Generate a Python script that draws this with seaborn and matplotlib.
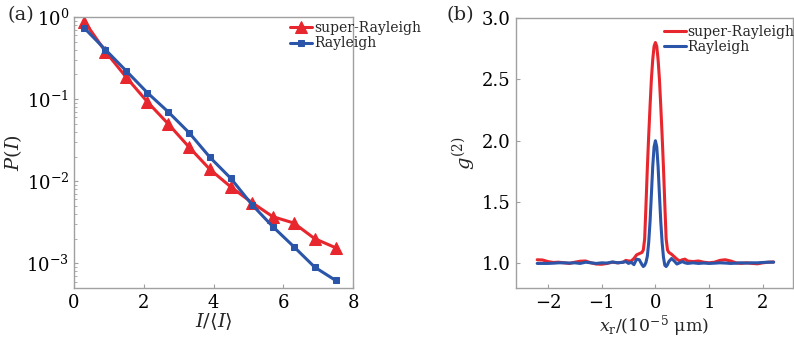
import numpy as np
import pandas as pd
import matplotlib
matplotlib.use("Agg")
import matplotlib.pyplot as plt
import seaborn as sns
from matplotlib.ticker import LogLocator, FormatStrFormatter

# ---------------- data ----------------
# panel (a): intensity statistics
I_norm = [0.3, 0.9, 1.5, 2.1, 2.7, 3.3, 3.9, 4.5, 5.1, 5.7, 6.3, 6.9, 7.5]
P_super = [0.88, 0.38, 0.184, 0.093, 0.050, 0.026, 0.0139, 0.0085, 0.0055,
           0.0037, 0.0031, 0.0020, 0.00155]
P_rayleigh = [0.73, 0.40, 0.22, 0.12, 0.070, 0.039, 0.0195, 0.0108, 0.0052,
              0.0028, 0.0016, 0.0009, 0.00062]

# panel (b): second-order correlation
x_r = [-2.2, -2.1, -2.0, -1.9, -1.8, -1.7, -1.6, -1.5, -1.4, -1.3, -1.2, -1.1,
       -1.0, -0.9, -0.8, -0.7, -0.6, -0.55, -0.5, -0.45, -0.4, -0.35, -0.3,
       -0.25, -0.225, -0.2, -0.175, -0.15, -0.125, -0.1, -0.075, -0.05, -0.025,
       0.0,
       0.025, 0.05, 0.075, 0.1, 0.125, 0.15, 0.175, 0.2, 0.225, 0.25, 0.3,
       0.35, 0.4, 0.45, 0.5, 0.55, 0.6, 0.7, 0.8, 0.9, 1.0, 1.1, 1.2, 1.3,
       1.4, 1.5, 1.6, 1.7, 1.8, 1.9, 2.0, 2.1, 2.2]
g2_super = [1.030, 1.028, 1.015, 1.008, 1.010, 1.005, 1.000, 1.010, 1.018,
            1.020, 1.005, 0.995, 0.993, 1.000, 1.010, 1.005, 1.010, 1.025,
            1.020, 1.020, 1.040, 1.070, 1.080, 1.090, 1.110, 1.200, 1.480,
            1.780, 2.040, 2.280, 2.500, 2.660, 2.770,
            2.800,
            2.770, 2.660, 2.500, 2.280, 2.040, 1.780, 1.480, 1.200, 1.110,
            1.090, 1.075, 1.055, 1.035, 1.020, 1.030, 1.035, 1.020, 1.015,
            1.020, 1.010, 1.005, 1.010, 1.025, 1.030, 1.020, 1.005, 1.000,
            1.005, 1.000, 0.997, 1.005, 1.010, 1.012]
g2_rayleigh = [1.000, 1.000, 1.000, 1.002, 1.005, 1.005, 1.003, 1.005, 1.000,
               1.010, 1.005, 1.000, 1.005, 1.003, 1.012, 1.005, 1.010, 1.015,
               1.000, 1.010, 0.990, 1.035, 1.030, 0.990, 0.975, 0.985, 1.010,
               1.060, 1.170, 1.340, 1.560, 1.790, 1.950,
               2.000,
               1.950, 1.790, 1.560, 1.340, 1.170, 1.050, 0.985, 0.975, 0.990,
               1.015, 1.040, 1.020, 0.995, 1.005, 1.015, 1.005, 1.000, 1.005,
               1.000, 1.003, 1.000, 1.002, 1.005, 1.003, 1.000, 1.002, 1.005,
               1.003, 1.005, 1.005, 1.008, 1.010, 1.010]

labels = ["super-Rayleigh", "Rayleigh"]
RED = "#e8262d"
BLUE = "#2b55a8"

# ---------------- style ----------------
sns.set_style("ticks")
plt.rcParams["font.family"] = ["DejaVu Serif"]
plt.rcParams["mathtext.fontset"] = "dejavuserif"
plt.rcParams["axes.edgecolor"] = "#a0a0a0"
plt.rcParams["axes.linewidth"] = 1.0
plt.rcParams["xtick.direction"] = "in"
plt.rcParams["ytick.direction"] = "in"
plt.rcParams["xtick.color"] = "#a0a0a0"
plt.rcParams["ytick.color"] = "#a0a0a0"
plt.rcParams["xtick.labelcolor"] = "black"
plt.rcParams["ytick.labelcolor"] = "black"

fig = plt.figure(figsize=(7.94, 3.38), dpi=100)
ax1 = fig.add_axes([0.0932, 0.148, 0.3514, 0.8017])
ax2 = fig.add_axes([0.6495, 0.148, 0.3492, 0.7987])

TICK_FS = 13
LEG_FS = 10

# ---------------- panel (a) ----------------
dfa = pd.DataFrame({"x": I_norm * 2,
                    "y": P_super + P_rayleigh,
                    "s": [labels[0]] * len(I_norm) + [labels[1]] * len(I_norm)})
sns.lineplot(data=dfa[dfa.s == labels[0]], x="x", y="y", ax=ax1, color=RED,
             marker="^", markersize=8, markeredgecolor=RED, lw=2.2,
             label=labels[0])
sns.lineplot(data=dfa[dfa.s == labels[1]], x="x", y="y", ax=ax1, color=BLUE,
             marker="s", markersize=5, markeredgecolor=BLUE, lw=2.2,
             label=labels[1])
ax1.set_yscale("log")
ax1.set_xlim(0, 8)
ax1.set_ylim(10 ** -3.3, 1.0)
ax1.set_xticks([0, 2, 4, 6, 8])
ax1.yaxis.set_major_locator(LogLocator(base=10, numticks=10))
ax1.yaxis.set_minor_locator(LogLocator(base=10, subs=np.arange(2, 10) * 1.0, numticks=10))
ax1.tick_params(axis="both", which="major", labelsize=TICK_FS, length=3, width=0.8)
ax1.tick_params(axis="y", which="minor", length=2, width=0.6)
ax1.tick_params(axis="x", which="major", pad=4)
ax1.set_xlabel(r"$I/\langle I\rangle$", fontsize=14, labelpad=0)
ax1.set_ylabel(r"$P(I)$", fontsize=14, labelpad=2)
for s in ax1.spines.values():
    s.set_visible(True)
ax1.legend(loc="upper left", bbox_to_anchor=(0.775, 0.985), frameon=False,
           fontsize=LEG_FS, handlelength=1.6, handletextpad=0.1,
           labelspacing=0.1, borderpad=0, borderaxespad=0)

# ---------------- panel (b) ----------------
dfb = pd.DataFrame({"x": x_r * 2,
                    "y": g2_super + g2_rayleigh,
                    "s": [labels[0]] * len(x_r) + [labels[1]] * len(x_r)})
sns.lineplot(data=dfb, x="x", y="y", hue="s", palette=[RED, BLUE], ax=ax2,
             lw=2.2, sort=False)
ax2.set_xlim(-2.6, 2.56)
ax2.set_ylim(0.8, 3.0)
ax2.set_xticks([-2, -1, 0, 1, 2])
ax2.set_yticks([1.0, 1.5, 2.0, 2.5, 3.0])
ax2.yaxis.set_major_formatter(FormatStrFormatter("%.1f"))
ax2.tick_params(axis="both", which="major", labelsize=TICK_FS, length=3, width=0.8)
ax2.tick_params(axis="x", which="major", pad=4)
ax2.set_xlabel(r"$x_{\rm r}$/(10$^{-5}$ μm)", fontsize=12.5, labelpad=1)
ax2.set_ylabel(r"$g^{(2)}$", fontsize=14, labelpad=3)
for s in ax2.spines.values():
    s.set_visible(True)
ax2.legend(loc="upper left", bbox_to_anchor=(0.535, 0.975), frameon=False,
           fontsize=LEG_FS, handlelength=1.6, handletextpad=0.1,
           labelspacing=0.1, borderpad=0, borderaxespad=0, title=None)

fig.text(0.010, 0.955, "(a)", fontsize=14, va="center", ha="left")
fig.text(0.562, 0.955, "(b)", fontsize=14, va="center", ha="left")

fig.savefig("out.png", dpi=100)
